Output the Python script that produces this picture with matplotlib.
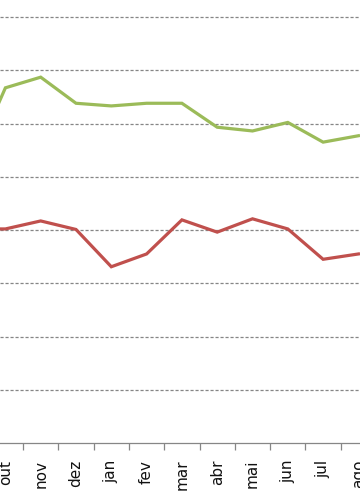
import numpy as np
import matplotlib.pyplot as plt

# months (set is just off the left edge of the crop)
meses = ['set', 'out', 'nov', 'dez', 'jan', 'fev', 'mar', 'abr', 'mai', 'jun', 'jul', 'ago']
verde = [5.16, 6.67, 6.87, 6.38, 6.33, 6.38, 6.38, 5.93, 5.86, 6.02, 5.65, 5.77]
vermelho = [4.02, 4.02, 4.17, 4.01, 3.31, 3.55, 4.19, 3.96, 4.21, 4.02, 3.45, 3.55]

fig = plt.figure(figsize=(3.6, 5.04), dpi=100)
ax = fig.add_axes([0, 61 / 504, 1, 443 / 504])

x = np.arange(len(meses))
ax.plot(x, verde, color='#9BBB59', lw=2.3, solid_joinstyle='miter')
ax.plot(x, vermelho, color='#C0504D', lw=2.3, solid_joinstyle='miter')

for v in range(1, 9):
    ax.axhline(v, color='#868686', lw=0.9, ls=(0, (2.5, 1.5)), zorder=0)

# ticks on category boundaries, labels in the middle
ax.set_xticks(x[:-1] + 0.5)
ax.set_xticklabels([])
ax.set_xticks(x, minor=True)
ax.set_xticklabels(meses, minor=True, rotation=90, fontsize=11, color='#111111')
ax.tick_params(axis='x', which='major', length=5, color='#868686', width=0.9)
ax.tick_params(axis='x', which='minor', length=0, pad=12)
ax.set_yticks([])

ax.set_xlim(0.847, 11.045)
ax.set_ylim(0, 443 / 53.25)

for s in ['left', 'right', 'top']:
    ax.spines[s].set_visible(False)
ax.spines['bottom'].set_color('#868686')
ax.spines['bottom'].set_linewidth(0.9)

plt.savefig('out.png', dpi=100)
